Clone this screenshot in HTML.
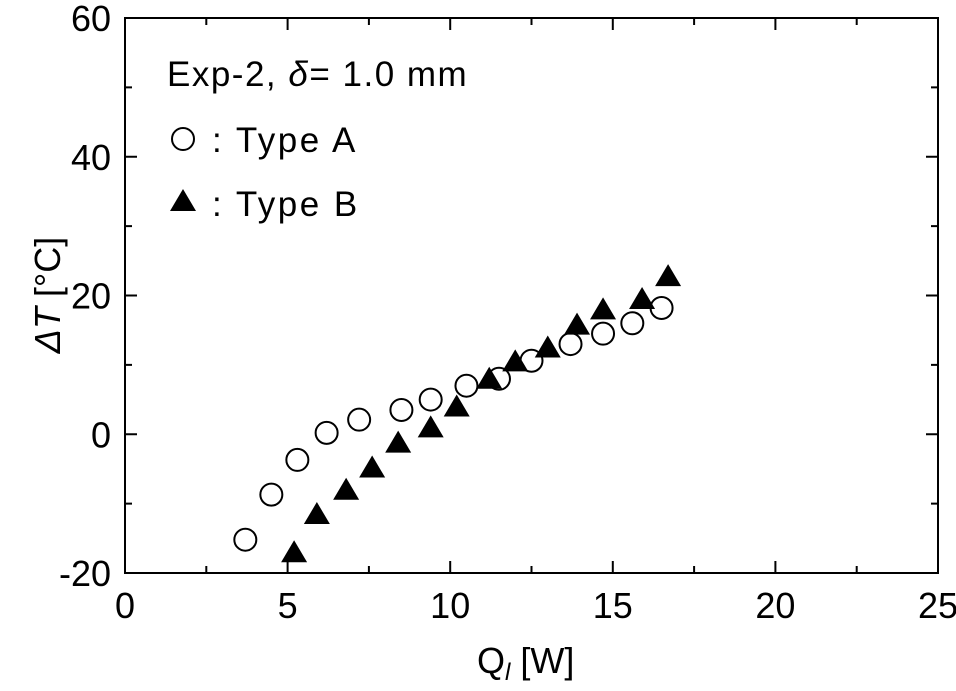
<!DOCTYPE html>
<html><head><meta charset="utf-8"><style>
body{margin:0;background:#fff}
svg text{font-family:"Liberation Sans",Arial,sans-serif;fill:#000}
</style></head><body>
<svg id="chart" width="956" height="686" viewBox="0 0 956 686">
<g id="axes"></g>
<g id="marks"></g>
<text x="477" y="673" font-size="36">Q<tspan font-style="italic" font-size="24" dy="7">l</tspan><tspan dy="-7">  [W]</tspan></text>
<text transform="translate(60,295) rotate(-90)" text-anchor="middle" font-size="36"><tspan font-style="italic">ΔT</tspan> [°C]</text>
<g>
<text x="167" y="86" font-size="35" letter-spacing="1.5">Exp-2,  <tspan font-style="italic">δ</tspan>= 1.0  mm</text>
<circle cx="183" cy="139" r="11" fill="#fff" stroke="#000" stroke-width="2"/>
<text x="212" y="152" font-size="35" letter-spacing="2.5">: Type A</text>
<polygon points="183,189 196,211 170,211" fill="#000"/>
<text x="212" y="216" font-size="35" letter-spacing="2.5">: Type B</text>
</g>
</svg>
<script>
const xTicks=[0,5,10,15,20,25];
const yTicks=[-20,0,20,40,60];
const typeAx=[3.7,4.5,5.3,6.2,7.2,8.5,9.4,10.5,11.5,12.5,13.7,14.7,15.6,16.5];
const typeAy=[-15.2,-8.7,-3.7,0.2,2.1,3.5,5.0,7.0,8.0,10.6,13.0,14.5,16.0,18.2];
const typeBx=[5.2,5.9,6.8,7.6,8.4,9.4,10.2,11.2,12.0,13.0,13.9,14.7,15.9,16.7];
const typeBy=[-17.0,-11.5,-8.0,-4.8,-1.2,1.0,4.0,8.0,10.5,12.5,15.8,18.0,19.5,22.8];
const L=125,R=938,T=18,B=573;
const sx=v=>L+(v-0)/(25-0)*(R-L);
const sy=v=>B-(v+20)/(80)*(B-T);
const NS='http://www.w3.org/2000/svg';
const ax=document.getElementById('axes'),mk=document.getElementById('marks');
function mkEl(t,a,p){const e=document.createElementNS(NS,t);for(const k in a)e.setAttribute(k,a[k]);p.appendChild(e);return e;}
const fr=mkEl('rect',{x:L,y:T,width:R-L,height:B-T,fill:'none',stroke:'#000','stroke-width':2},ax);


for(let v=0;v<=25;v+=2.5){const x=sx(v),len=(v%5===0)?12:7;
 const t1=mkEl('line',{x1:x,x2:x,y1:B,y2:B-len,stroke:'#000','stroke-width':2},ax);
 
 
 const t2=mkEl('line',{x1:x,x2:x,y1:T,y2:T+len,stroke:'#000','stroke-width':2},ax);
 
 }
for(let v=-20;v<=60;v+=10){const y=sy(v),len=(v%20===0)?12:7;
 const t1=mkEl('line',{x1:L,x2:L+len,y1:y,y2:y,stroke:'#000','stroke-width':2},ax);
 
 
 const t2=mkEl('line',{x1:R,x2:R-len,y1:y,y2:y,stroke:'#000','stroke-width':2},ax);
 
 }
xTicks.forEach(v=>{const t=mkEl('text',{x:sx(v),y:B+45,'text-anchor':'middle','font-size':36},ax);t.textContent=v;
 
 });
yTicks.forEach(v=>{const t=mkEl('text',{x:L-14,y:sy(v)+13,'text-anchor':'end','font-size':36},ax);t.textContent=v;
 
 });
typeAx.forEach((v,i)=>{const c=mkEl('circle',{cx:sx(v),cy:sy(typeAy[i]),r:11,fill:'#fff',stroke:'#000','stroke-width':2},mk);
 
 });
typeBx.forEach((v,i)=>{const x=sx(v),y=sy(typeBy[i]);
 const p=mkEl('polygon',{points:`${x},${y-12} ${x+13},${y+10} ${x-13},${y+10}`,fill:'#000'},mk);
 
 });
</script>
</body></html>
